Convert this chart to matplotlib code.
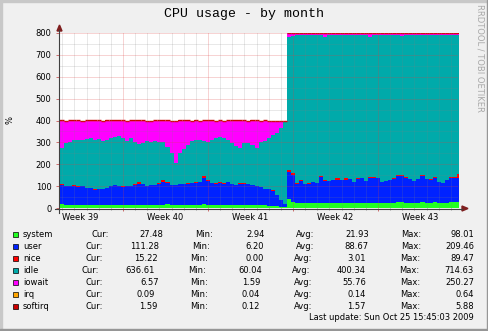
import numpy as np
import matplotlib.pyplot as plt
from matplotlib.lines import Line2D
from matplotlib.patches import Polygon, Rectangle
import matplotlib.transforms as mtransforms

W, H = 489, 331

# 8-hour averages, time in days relative to Mon Sep 28 2009 00:00 (start of week 40)
t_start = -5.5
t_step = 1 / 3

system = [
    16, 17, 16, 15, 16, 15, 16, 15, 15, 15,
    14, 15, 16, 16, 16, 16, 15, 15, 16, 15,
    16, 16, 15, 15, 16, 16, 16, 17, 16, 15,
    16, 16, 15, 16, 16, 16, 17, 16, 15, 16,
    15, 16, 15, 15, 16, 15, 15, 14, 14, 14,
    13, 12, 11, 10, 8, 6, 5,
    40, 28, 22, 22, 23, 22, 23, 22, 22, 23,
    23, 24, 24, 24, 23, 24, 23, 24, 24, 23,
    24, 25, 25, 24, 25, 24, 25, 26, 26, 25,
    24, 25, 25, 26, 25, 25, 26, 25, 24, 25,
    26, 27, 27.48,
]
user = [
    96, 88, 84, 85, 86, 83, 84, 77, 75, 69,
    72, 73, 74, 84, 88, 84, 83, 85, 86, 91,
    96, 92, 87, 89, 90, 96, 102, 97, 90, 89,
    92, 94, 97, 98, 100, 104, 121, 106, 99, 94,
    101, 96, 103, 93, 90, 95, 97, 94, 90, 86,
    81, 74, 77, 70, 52, 30, 13,
    125, 122, 90, 100, 87, 90, 94, 94, 118, 99,
    99, 104, 106, 104, 107, 108, 97, 108, 111, 102,
    114, 111, 110, 96, 97, 102, 109, 119, 119, 111,
    108, 100, 107, 119, 107, 105, 112, 95, 90, 103,
    112, 109, 111.28,
]
nice = [
    8, 6, 1, 0.5, 5, 4, 0.5, 1, 0.5, 1,
    0.5, 0.5, 1, 0.5, 1, 0.5, 1, 0.5, 0.5, 4,
    6, 1, 0.5, 1, 0.5, 4, 8, 5, 1, 0.5,
    1, 1, 4, 1, 4, 1, 8, 5, 1, 4,
    1, 0.5, 1, 0.5, 1, 4, 1, 0.5, 1, 0.5,
    1, 0.5, 0.5, 0.5, 0.5, 0.5, 0.5,
    10, 8, 0.5, 6, 0.5, 0.5, 1, 0.5, 5, 6,
    0.5, 1, 6, 1, 6, 1, 0.5, 6, 4, 0.5,
    6, 5, 1, 0.5, 1, 0.5, 1, 5, 6, 5,
    1, 0.5, 1, 6, 1, 0.5, 4, 0.5, 0.5, 1,
    4, 6, 15.22,
]
idle = [
    185, 164, 197, 199.5, 203, 210, 209.5, 222, 227.5, 227,
    227.5, 216.5, 221, 217.5, 220, 229.5, 223, 207.5, 215.5, 190,
    174, 189, 202.5, 195, 201.5, 186, 174, 161, 143, 100.5,
    141, 157, 174, 190, 192, 189, 159, 173, 197, 204,
    208, 207.5, 193, 186.5, 178, 161, 182, 189.5, 185, 174.5,
    205, 218.5, 231.5, 254.5, 284.5, 328.5, 376.5,
    605, 630, 677.5, 662, 681.5, 678.5, 672, 674.5, 644, 652,
    666.5, 661, 655, 661, 654, 658, 669.5, 653, 651, 663.5,
    640, 649, 655, 669.5, 668, 663.5, 655, 639, 635, 649,
    658, 664.5, 657, 640, 657, 660.5, 648, 668.5, 675.5, 662,
    648, 649, 636.61,
]
iowait = [
    93.3, 123.3, 100.3, 98.3, 88.3, 86.3, 88.3, 83.3, 80.3, 86.3,
    84.3, 93.3, 86.3, 80.3, 73.3, 68.3, 76.3, 90.3, 80.3, 98.3,
    106.3, 100.3, 93.3, 98.3, 90.3, 96.3, 98.3, 118.3, 148.3, 193.3,
    148.3, 130.3, 108.3, 93.3, 86.3, 88.3, 93.3, 98.3, 86.3, 80.3,
    73.3, 78.3, 86.3, 103.3, 113.3, 123.3, 103.3, 100.3, 108.3, 123.3,
    98.3, 93.3, 78.3, 63.3, 53.3, 33.3, 3.3,
    18, 10, 8, 8, 6, 7, 8, 7, 9, 18,
    9, 8, 7, 8, 8, 7, 8, 7, 8, 9,
    14, 8, 7, 8, 7, 8, 8, 9, 12, 8,
    7, 8, 8, 7, 8, 7, 8, 9, 8, 7,
    8, 7, 6.57,
]
irq = [
    0.10, 0.12, 0.09, 0.10, 0.11, 0.10, 0.09, 0.10, 0.12, 0.10,
    0.10, 0.09, 0.11, 0.10, 0.10, 0.12, 0.10, 0.09, 0.10, 0.11,
    0.10, 0.10, 0.09, 0.12, 0.10, 0.10, 0.11, 0.10, 0.09, 0.10,
    0.12, 0.10, 0.10, 0.09, 0.11, 0.10, 0.10, 0.12, 0.10, 0.09,
    0.10, 0.11, 0.10, 0.10, 0.09, 0.12, 0.10, 0.10, 0.11, 0.10,
    0.09, 0.10, 0.10, 0.08, 0.07, 0.05, 0.04,
    0.20, 0.15, 0.14, 0.16, 0.15, 0.13, 0.15, 0.16, 0.14, 0.15,
    0.15, 0.14, 0.16, 0.15, 0.15, 0.13, 0.15, 0.16, 0.14, 0.15,
    0.16, 0.15, 0.14, 0.15, 0.13, 0.15, 0.16, 0.15, 0.14, 0.15,
    0.15, 0.16, 0.14, 0.15, 0.15, 0.13, 0.15, 0.14, 0.16, 0.15,
    0.14, 0.15, 0.09,
]
softirq = [
    1.6, 1.6, 1.5, 1.6, 1.7, 1.6, 1.5, 1.6, 1.6, 1.7,
    1.6, 1.5, 1.6, 1.6, 1.7, 1.6, 1.6, 1.5, 1.6, 1.6,
    1.7, 1.6, 1.6, 1.5, 1.6, 1.6, 1.7, 1.6, 1.6, 1.5,
    1.6, 1.6, 1.7, 1.6, 1.6, 1.5, 1.6, 1.6, 1.7, 1.6,
    1.6, 1.5, 1.6, 1.6, 1.7, 1.6, 1.6, 1.5, 1.6, 1.6,
    1.6, 1.6, 1.5, 1.4, 1.3, 1.2, 1.2,
    1.6, 1.7, 1.6, 1.6, 1.5, 1.7, 1.6, 1.6, 1.7, 1.6,
    1.6, 1.5, 1.7, 1.6, 1.6, 1.7, 1.6, 1.5, 1.6, 1.7,
    1.6, 1.6, 1.7, 1.5, 1.6, 1.6, 1.7, 1.6, 1.6, 1.5,
    1.7, 1.6, 1.6, 1.7, 1.6, 1.5, 1.6, 1.7, 1.6, 1.6,
    1.7, 1.6, 1.59,
]

names = ['system', 'user', 'nice', 'idle', 'iowait', 'irq', 'softirq']
colors = ['#22ff22', '#0022ff', '#ff0000', '#00aaaa', '#ff00ff', '#ffa500', '#cc0000']
cur = [27.48, 111.28, 15.22, 636.61, 6.57, 0.09, 1.59]
mins = [2.94, 6.20, 0.00, 60.04, 1.59, 0.04, 0.12]
avgs = [21.93, 88.67, 3.01, 400.34, 55.76, 0.14, 1.57]
maxs = [98.01, 209.46, 89.47, 714.63, 250.27, 0.64, 5.88]

week_starts = [0, 7, 14, 21]
week_centers = [-3.5, 3.5, 10.5, 17.5, 24.5]
week_names = ['Week 39', 'Week 40', 'Week 41', 'Week 42', 'Week 43']
y_ticks = [0, 100, 200, 300, 400, 500, 600, 700, 800]
last_update = 'Last update: Sun Oct 25 15:45:03 2009'


def fx(px):
    return px / W


def fy(py):
    return 1 - py / H


fig = plt.figure(figsize=(W / 100, H / 100), dpi=100, facecolor='#f0f0f0')
ax = fig.add_axes([fx(59), fy(208), 399 / W, 175 / H])
ax.set_facecolor('white')
for s in ax.spines.values():
    s.set_visible(False)
ax.set_xlim(-5.27, 27.59)
ax.set_ylim(0, 800)

# stacked areas
series = [system, user, nice, idle, iowait, irq, softirq]
n = len(system)
edges = t_start + t_step * np.arange(n + 1)
bottom = np.zeros(n)
for vals, c in zip(series, colors):
    top = bottom + np.asarray(vals, dtype=float)
    ax.fill_between(edges, np.append(bottom, bottom[-1]), np.append(top, top[-1]),
                    step='post', color=c, lw=0, antialiased=False, zorder=1)
    bottom = top
ax.hlines(bottom, edges[:-1], edges[1:], color=colors[-1], lw=1.0, zorder=1.5)

# rrdtool style dotted grid on top of the data
major_c = (0.87, 0.25, 0.25, 0.45)
minor_c = (0.5, 0.5, 0.5, 0.35)
dots = (0, (1, 1))
for d in range(-5, 28):
    ax.axvline(d, color=major_c if d in week_starts else minor_c, lw=0.72, ls=dots, zorder=3)
for v in range(50, 801, 50):
    ax.axhline(v, color=major_c if v % 100 == 0 else minor_c, lw=0.72, ls=dots, zorder=3)

ax.set_yticks(y_ticks)
ax.set_yticklabels([str(v) for v in y_ticks], fontsize=6)
ax.tick_params(axis='y', length=2.5, width=0.72, color='#d07070', pad=3)
ax.set_xticks(week_starts)
ax.set_xticklabels([])
ax.set_xticks(range(-5, 28), minor=True)
ax.tick_params(axis='x', which='major', length=2.5, width=0.72, color='#d07070')
ax.tick_params(axis='x', which='minor', length=1.5, width=0.72, color='#a0a0a0')

trans = mtransforms.blended_transform_factory(ax.transData, fig.transFigure)
for c, name in zip(week_centers, week_names):
    ax.text(c, fy(220), name, transform=trans, ha='center', va='baseline', fontsize=6)

# axes with arrows
fig.add_artist(Line2D([fx(59.5), fx(59.5)], [fy(213), fy(30)], color='#404040', lw=0.8))
fig.add_artist(Line2D([fx(55), fx(462)], [fy(208.5), fy(208.5)], color='#404040', lw=0.8))
fig.add_artist(Polygon([(fx(57), fy(31)), (fx(62), fy(31)), (fx(59.5), fy(25))],
                       closed=True, color='#7f1f1f', transform=fig.transFigure))
fig.add_artist(Polygon([(fx(462), fy(206)), (fx(462), fy(211)), (fx(468), fy(208.5))],
                       closed=True, color='#7f1f1f', transform=fig.transFigure))

# title, unit, watermark
fig.text(fx(244), fy(17.5), 'CPU usage - by month', family='Liberation Mono',
         fontsize=9.5, ha='center', va='baseline')
fig.text(fx(10), fy(120), '%', rotation=90, fontsize=6, ha='center', va='center')
fig.text(fx(480.5), fy(4), 'RRDTOOL / TOBI OETIKER', rotation=270, fontsize=6,
         color='#a8a8a8', ha='center', va='top')

# legend with statistics
cur_x = [92, 86, 86, 82, 86, 86, 86]
cur_val_x = [163, 159, 157.7, 155, 159, 155, 157]
min_x = [195, 192, 190, 188, 190, 190, 190]
min_val_x = [265, 264, 264, 262, 260, 260, 260]
avg_x = [296, 296, 294, 292, 294, 294, 294]
avg_val_x = [369, 369, 366, 366, 366, 366, 366]
max_x = [401, 401, 400, 399, 400, 400, 400]
for k in range(len(names)):
    yb = 236.7 + 12 * k
    fig.add_artist(Rectangle((fx(13.5), fy(yb + 0.5)), 5 / W, 5 / H, facecolor=colors[k],
                             edgecolor='black', lw=0.5, transform=fig.transFigure))
    kw = dict(fontsize=6, va='baseline')
    fig.text(fx(23), fy(yb), names[k], ha='left', **kw)
    fig.text(fx(cur_x[k]), fy(yb), 'Cur:', ha='left', **kw)
    fig.text(fx(cur_val_x[k]), fy(yb), '%.2f' % cur[k], ha='right', **kw)
    fig.text(fx(min_x[k]), fy(yb), 'Min:', ha='left', **kw)
    fig.text(fx(min_val_x[k]), fy(yb), '%.2f' % mins[k], ha='right', **kw)
    fig.text(fx(avg_x[k]), fy(yb), 'Avg:', ha='left', **kw)
    fig.text(fx(avg_val_x[k]), fy(yb), '%.2f' % avgs[k], ha='right', **kw)
    fig.text(fx(max_x[k]), fy(yb), 'Max:', ha='left', **kw)
    fig.text(fx(474), fy(yb), '%.2f' % maxs[k], ha='right', **kw)
fig.text(fx(474), fy(320.5), last_update, fontsize=6, ha='right', va='baseline')

# shaded frame
fig.add_artist(Rectangle((0, 0), 2 / W, 1, color='#c8c8c8', transform=fig.transFigure))
fig.add_artist(Rectangle((0, 1 - 2 / H), 1, 2 / H, color='#c8c8c8', transform=fig.transFigure))
fig.add_artist(Rectangle((1 - 2 / W, 0), 2 / W, 1, color='#969696', transform=fig.transFigure))
fig.add_artist(Rectangle((0, 0), 1, 2 / H, color='#969696', transform=fig.transFigure))

fig.savefig('out.png', dpi=100, facecolor=fig.get_facecolor())
